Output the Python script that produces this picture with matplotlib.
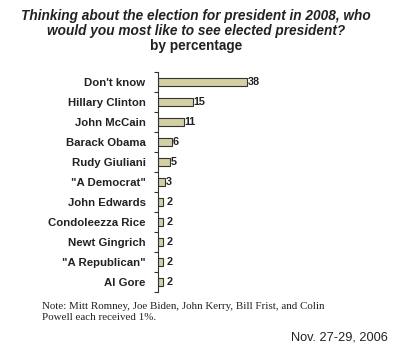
import matplotlib
matplotlib.use("Agg")
import matplotlib.pyplot as plt
import numpy as np

categories = ["Don't know", "Hillary Clinton", "John McCain", "Barack Obama",
              "Rudy Giuliani", '"A Democrat"', "John Edwards", "Condoleezza Rice",
              "Newt Gingrich", '"A Republican"', "Al Gore"]
values = [38, 15, 11, 6, 5, 3, 2, 2, 2, 2, 2]

W, H = 400, 359
fig = plt.figure(figsize=(W / 100, H / 100), dpi=100)
fig.patch.set_facecolor("white")

left, right = 158, 251.7
top, bottom = 72, 292
ax = fig.add_axes([left / W, 1 - bottom / H, (right - left) / W, (bottom - top) / H])

y = np.arange(len(categories))
ax.barh(y, values, height=0.42, color="#d3d1a3", edgecolor="#333333", linewidth=0.8)
ax.set_xlim(0, 40)
ax.set_ylim(len(categories) - 0.5, -0.5)

for yi, v in zip(y, values):
    ax.text(v + (0.3 if v > 2 else 1.8), yi, str(v), va="center", ha="left",
            fontsize=7.8, fontweight="bold", family="Liberation Sans", color="#222222")

for s in ["top", "right", "bottom"]:
    ax.spines[s].set_visible(False)
ax.spines["left"].set_color("#333333")
ax.spines["left"].set_linewidth(0.8)
ax.set_xticks([])
ax.set_yticks(y)
ax.set_yticklabels(categories, fontsize=8.2, fontweight="bold", family="Liberation Sans",
                   color="#222222")
ax.tick_params(axis="y", which="major", length=0, pad=9)
ax.set_yticks(np.arange(-0.5, len(categories)), minor=True)
ax.tick_params(axis="y", which="minor", length=3, width=0.8, color="#333333")

tkw = dict(ha="center", va="center", fontsize=9.8, fontweight="bold",
           family="Liberation Sans", color="#222222")
fig.text(0.49, 1 - 16 / H, "Thinking about the election for president in 2008, who",
         style="italic", **tkw)
fig.text(0.49, 1 - 31 / H, "would you most like to see elected president?",
         style="italic", **tkw)
fig.text(0.49, 1 - 46 / H, "by percentage", **tkw)

fig.text(42 / W, 1 - 312 / H,
         "Note: Mitt Romney, Joe Biden, John Kerry, Bill Frist, and Colin\nPowell each received 1%.",
         ha="left", va="center", fontsize=7.9, family="Liberation Serif",
         color="#222222", linespacing=1.15)
fig.text(388 / W, 1 - 338 / H, "Nov. 27-29, 2006", ha="right", va="center",
         fontsize=9.2, family="Liberation Sans", color="#222222")

fig.savefig("out.png", dpi=100, facecolor="white")
